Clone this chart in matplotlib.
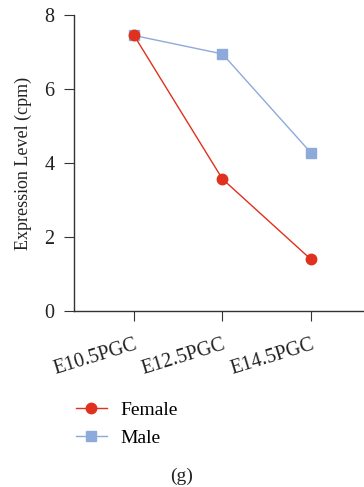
import matplotlib
matplotlib.use("Agg")
import matplotlib.pyplot as plt

stages = ["E10.5PGC", "E12.5PGC", "E14.5PGC"]
female = [7.45, 3.57, 1.40]
male = [7.45, 6.95, 4.28]

plt.rcParams['font.family'] = ['Liberation Serif', 'DejaVu Serif']

fig = plt.figure(figsize=(3.64, 4.87), dpi=100)
ax = fig.add_axes([0.203, 0.361, 0.797, 0.608])

x = range(len(stages))
ax.plot(x, female, '-o', color='#e0301e', lw=1.0, markersize=7.5, label='Female', zorder=3)
ax.plot(x, male, '-s', color='#8eaadb', lw=1.0, markersize=7, label='Male', zorder=2)

ax.set_ylim(0, 8)
ax.set_xlim(-0.68, 2.6)
ax.set_yticks([0, 2, 4, 6, 8])
ax.set_xticks(list(x))
ax.set_xticklabels(stages, rotation=17, ha='right', rotation_mode='anchor', fontsize=14.5)
ax.tick_params(axis='y', labelsize=14.5, length=7, pad=7, color='#333333', labelcolor='#222222')
ax.tick_params(axis='x', length=7, pad=10, color='#333333', labelcolor='#222222')
ax.set_ylabel('Expression Level (cpm)', fontsize=13, color='#222222', labelpad=9)

for s in ['top', 'right']:
    ax.spines[s].set_visible(False)
for s in ['left', 'bottom']:
    ax.spines[s].set_color('#333333')
    ax.spines[s].set_linewidth(1.0)

fig.legend(loc='upper left', bbox_to_anchor=(0.16, 0.212), frameon=False,
           fontsize=14, handlelength=1.6, handletextpad=0.7, labelspacing=0.55)
fig.text(0.5, 0.012, '(g)', ha='center', fontsize=14, color='#222222')

fig.savefig('out.png', dpi=100)
